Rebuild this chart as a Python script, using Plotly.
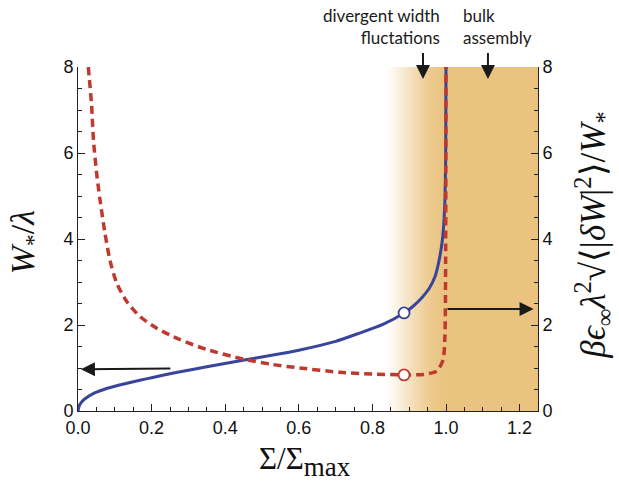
import plotly.graph_objects as go
import numpy as np

# ---------------- data ----------------
sigma_blue = [0.0, 0.002, 0.005, 0.01, 0.02, 0.04, 0.07, 0.1, 0.133, 0.168, 0.2, 0.27, 0.35,
              0.448, 0.53, 0.603, 0.7, 0.758, 0.83, 0.886, 0.91, 0.935, 0.955, 0.97,
              0.98, 0.989, 0.994, 0.997, 0.999, 0.9995, 1.0]
w_blue = [0.0, 0.08, 0.15, 0.21, 0.29, 0.4, 0.5, 0.575, 0.645, 0.715, 0.775, 0.9, 1.03,
          1.18, 1.3, 1.42, 1.62, 1.79, 2.02, 2.28, 2.43, 2.64, 2.86, 3.12,
          3.45, 3.9, 4.35, 4.9, 5.8, 6.6, 8.0]

sigma_red = [0.028, 0.037, 0.042, 0.051, 0.06, 0.073, 0.087, 0.105, 0.132, 0.168, 0.215, 0.277,
             0.35, 0.448, 0.53, 0.603, 0.712, 0.8, 0.886, 0.94, 0.975, 0.992, 0.997, 0.999, 1.0]
fluct_red = [8.0, 7.1, 6.3, 5.5, 4.9, 4.15, 3.5, 2.98, 2.55, 2.2, 1.92, 1.66,
             1.43, 1.21, 1.08, 1.0, 0.9, 0.86, 0.84, 0.85, 0.93, 1.19, 1.72, 3.5, 8.0]

marker_sigma = [0.886]
marker_w = [2.28]
marker_fluct = [0.84]

x_ticks = [0.0, 0.2, 0.4, 0.6, 0.8, 1.0, 1.2]
y_ticks = [0, 2, 4, 6, 8]

# ---------------- styling ----------------
BLUE = "#37459a"
RED = "#c0392f"
TAN = (234, 195, 128)
GRAD_START, BULK_START, X_MAX, Y_MAX = 0.83, 1.0, 1.25, 8.0
AXIS_COLOR = "#222222"
TICK_FONT = dict(family="Liberation Sans, Arial", size=18, color="#111111")

fig = go.Figure()

# shaded regions (gradient then solid)
shapes = []
n = 90
edges = np.linspace(GRAD_START, BULK_START, n + 1)
for i in range(n):
    t = (i + 0.5) / n
    a = t * t * (3 - 2 * t)
    a = a ** 0.75
    col = tuple(int(round(255 + (c - 255) * a)) for c in TAN)
    shapes.append(dict(type="rect", xref="x", yref="y", x0=edges[i], x1=edges[i + 1] + 0.0015,
                       y0=0, y1=Y_MAX, fillcolor="rgb(%d,%d,%d)" % col,
                       line=dict(width=0), layer="below"))
shapes.append(dict(type="rect", xref="x", yref="y", x0=BULK_START, x1=X_MAX, y0=0, y1=Y_MAX,
                   fillcolor="rgb(%d,%d,%d)" % TAN, line=dict(width=0), layer="below"))

fig.add_trace(go.Scatter(x=sigma_blue, y=w_blue, mode="lines",
                         line=dict(color=BLUE, width=3, shape="spline", smoothing=0.7),
                         showlegend=False))
fig.add_trace(go.Scatter(x=sigma_red, y=fluct_red, mode="lines",
                         line=dict(color=RED, width=3.5, dash="8px,5px", shape="spline",
                                   smoothing=0.7),
                         showlegend=False))
fig.add_trace(go.Scatter(x=marker_sigma, y=marker_w, mode="markers",
                         marker=dict(size=11, color="white", line=dict(color=BLUE, width=1.8)),
                         showlegend=False))
fig.add_trace(go.Scatter(x=marker_sigma, y=marker_fluct, mode="markers",
                         marker=dict(size=11, color="white", line=dict(color=RED, width=1.8)),
                         showlegend=False))
# dummy trace for the right axis
fig.add_trace(go.Scatter(x=[None], y=[None], yaxis="y2", showlegend=False))

annotations = []
arrow_style = dict(showarrow=True, arrowhead=2, arrowsize=1.4, arrowwidth=2,
                   arrowcolor="#1a1a1a", text="", axref="x", ayref="y", xref="x", yref="y")
annotations.append(dict(x=0.008, y=0.97, ax=0.255, ay=0.99, **arrow_style))
annotations.append(dict(x=1.238, y=2.37, ax=1.0, ay=2.37, **arrow_style))
annotations.append(dict(x=0.9375, y=7.72, ax=0.9375, ay=8.36, **arrow_style))
annotations.append(dict(x=1.114, y=7.72, ax=1.114, ay=8.36, **arrow_style))

label_font = dict(family="Lato, Open Sans, sans-serif", size=17, color="#1a1a1a")
annotations.append(dict(text="divergent width<br>fluctations", x=0.989, y=1.05,
                        xref="x", yref="paper", xanchor="right", yanchor="bottom",
                        align="right", showarrow=False, font=label_font))
annotations.append(dict(text="bulk<br>assembly", x=1.041, y=1.05,
                        xref="x", yref="paper", xanchor="left", yanchor="bottom",
                        align="left", showarrow=False, font=label_font))

math_font = dict(family="Liberation Serif, Times New Roman, serif", size=34, color="#111111")
annotations.append(dict(text="<i>W</i><sub>*</sub>/<i>λ</i>", x=-0.115, y=0.49, xref="paper",
                        yref="paper", textangle=-90, showarrow=False, font=math_font,
                        xanchor="center", yanchor="middle"))
annotations.append(dict(text="Σ/Σ<sub><span style='font-size:27px'>max</span></sub>",
                        x=0.493, y=-0.148, xref="paper", yref="paper",
                        showarrow=False, font=dict(math_font, size=31),
                        xanchor="center", yanchor="middle"))
annotations.append(dict(text="<i>βϵ</i><sub>∞</sub><i>λ</i><sup>2</sup>√⟨|<i>δW</i>|<sup>2</sup>⟩/<i>W</i><sub>*</sub>",
                        x=1.12, y=0.51, xref="paper", yref="paper", textangle=-90,
                        showarrow=False, font=dict(math_font, size=35),
                        xanchor="center", yanchor="middle"))

common_axis = dict(showgrid=False, zeroline=False, showline=True, linecolor=AXIS_COLOR,
                   linewidth=1, ticks="inside", tickcolor=AXIS_COLOR, ticklen=7, tickwidth=1,
                   tickfont=TICK_FONT)

fig.update_layout(
    width=619, height=483,
    margin=dict(l=78, r=81, t=67, b=72),
    paper_bgcolor="white", plot_bgcolor="white",
    shapes=shapes, annotations=annotations,
    xaxis=dict(range=[0, X_MAX], tickvals=x_ticks, ticktext=["%.1f" % v for v in x_ticks],
               minor=dict(dtick=0.05, tick0=0, ticks="inside", ticklen=4,
                          tickcolor=AXIS_COLOR), **common_axis),
    yaxis=dict(range=[0, Y_MAX], tickvals=y_ticks, ticktext=[str(v) for v in y_ticks],
               minor=dict(dtick=0.5, tick0=0, ticks="inside", ticklen=4,
                          tickcolor=AXIS_COLOR), **common_axis),
    yaxis2=dict(range=[0, Y_MAX], tickvals=y_ticks, ticktext=[str(v) for v in y_ticks],
                overlaying="y", side="right",
                minor=dict(dtick=0.5, tick0=0, ticks="inside", ticklen=4,
                           tickcolor=AXIS_COLOR), **common_axis),
)

fig.write_html("out.html")
